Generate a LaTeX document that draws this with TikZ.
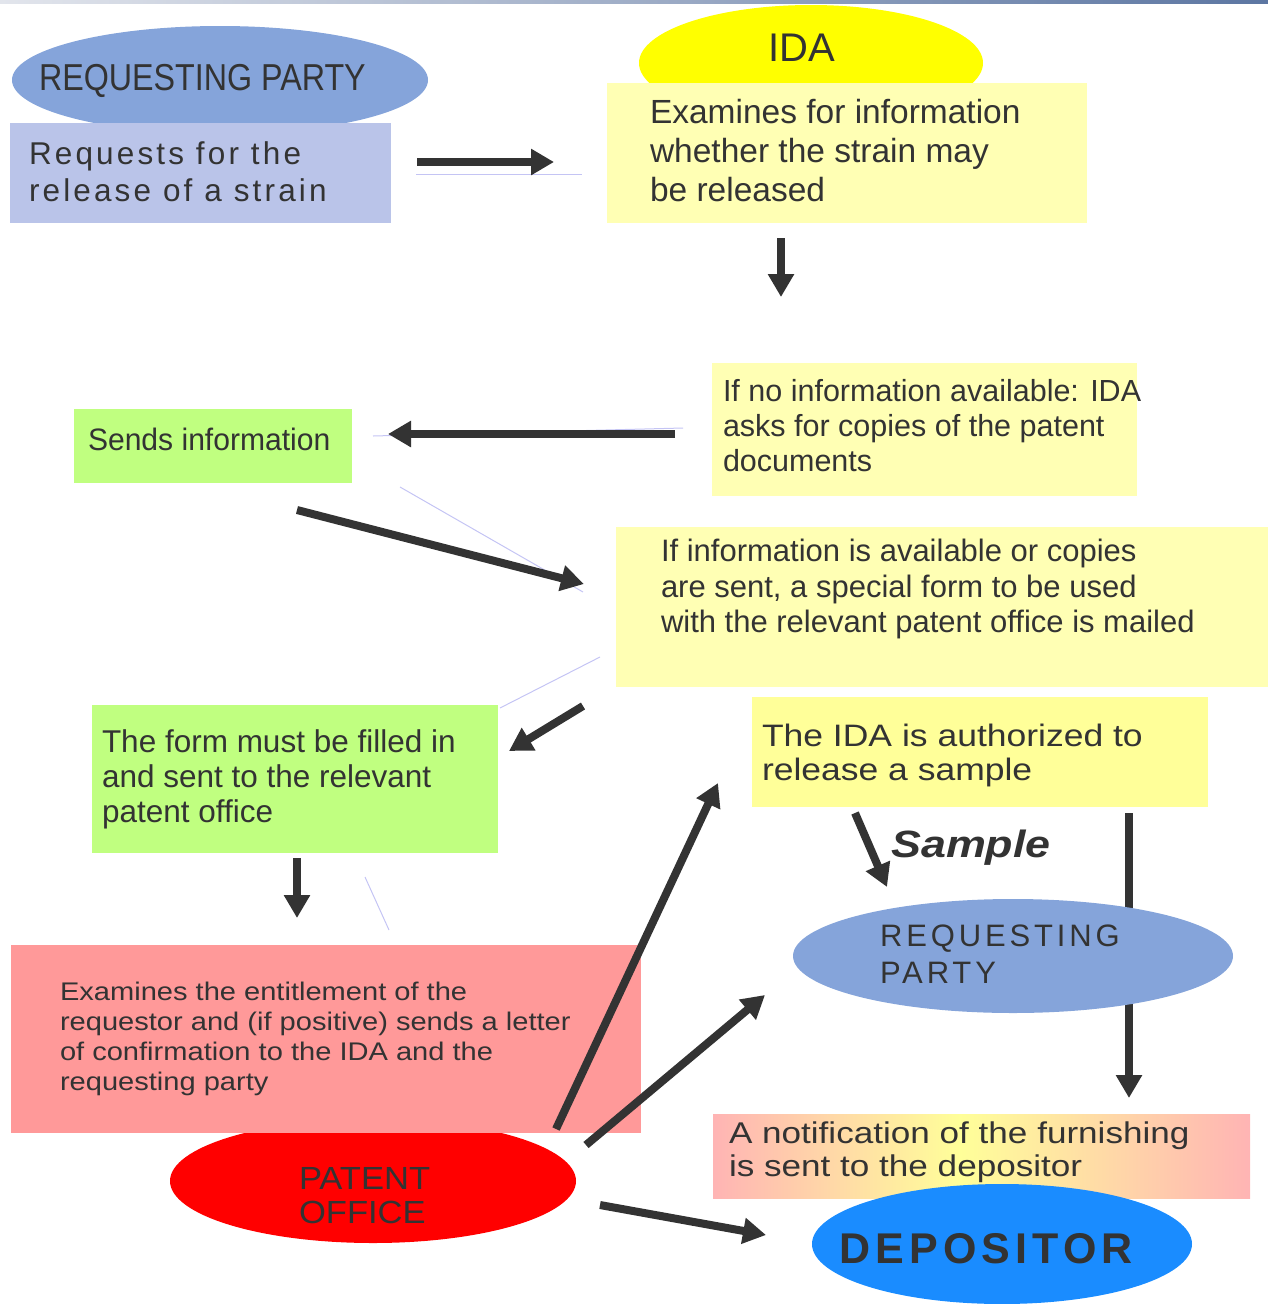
\documentclass[tikz,border=0pt]{standalone}
\usepackage{fontspec}
\setmainfont{Liberation Sans}
\usetikzlibrary{shapes.geometric,arrows.meta}
\newfontfamily\fnorm{Liberation Sans}
\newfontfamily\fcond[FakeStretch=0.86]{Liberation Sans}
\newfontfamily\fspaced[LetterSpace=10]{Liberation Sans}
\newfontfamily\fsend[FakeStretch=0.97]{Liberation Sans}
\newfontfamily\fpink[FakeStretch=1.14]{Liberation Sans}
\newfontfamily\fauth[FakeStretch=1.145]{Liberation Sans}
\newfontfamily\fnote[FakeStretch=1.17]{Liberation Sans}
\newfontfamily\freq[LetterSpace=12.5]{Liberation Sans}
\newfontfamily\fpat[FakeStretch=1.08]{Liberation Sans}
\newfontfamily\fdep[LetterSpace=12]{Liberation Sans}
\newfontfamily\fsmp[FakeStretch=1.18]{Liberation Sans}
\definecolor{ink}{RGB}{51,51,51}
\definecolor{steel}{RGB}{133,164,218}
\definecolor{lav}{RGB}{186,196,233}
\definecolor{paley}{RGB}{255,255,180}
\definecolor{authy}{RGB}{255,255,153}
\definecolor{idayel}{RGB}{255,255,0}
\definecolor{lime}{RGB}{192,255,128}
\definecolor{salmon}{RGB}{255,153,153}
\definecolor{patred}{RGB}{255,0,0}
\definecolor{depblue}{RGB}{26,140,255}
\definecolor{notepink}{RGB}{255,180,180}
\definecolor{noteyel}{RGB}{255,255,153}
\definecolor{faintc}{RGB}{196,196,244}
\definecolor{barL}{RGB}{226,229,236}
\definecolor{barR}{RGB}{92,118,162}
\pgfdeclarehorizontalshading{notegrad}{100bp}{color(0bp)=(notepink); color(25bp)=(notepink); color(48bp)=(noteyel); color(75bp)=(notepink); color(100bp)=(notepink)}
\tikzset{
  txt/.style={inner sep=0pt, outer sep=0pt, anchor=north west, align=left, text=ink},
  box/.style={inner sep=0pt, outer sep=0pt, anchor=north west, draw=none},
  oval/.style={ellipse, inner sep=0pt, outer sep=0pt, draw=none},
  flow/.style={draw=ink, line width=8pt, -{Triangle[length=23pt,width=25pt]}},
  faint/.style={draw=faintc, line width=1pt},
}
\begin{document}
\begin{tikzpicture}[x=1pt,y=-1pt]
\useasboundingbox (0,0) rectangle (1268,1304);
\shade[left color=barL, right color=barR] (0,0) rectangle (1268,3);
% shapes
\node[oval, fill=steel, minimum width=416pt, minimum height=108pt] (e1) at (220,80) {};
\node[box, fill=lav, minimum width=381pt, minimum height=100pt] (r1) at (10,123) {};
\node[oval, fill=idayel, minimum width=344pt, minimum height=116pt] (e2) at (811,63) {};
\node[box, fill=paley, minimum width=480pt, minimum height=140pt] (r2) at (607,83) {};
\node[box, fill=paley, minimum width=425pt, minimum height=133pt] (r3) at (712,363) {};
\node[box, fill=lime, minimum width=278pt, minimum height=74pt] (r4) at (74,409) {};
\node[box, fill=paley, minimum width=652pt, minimum height=160pt] (r5) at (616,527) {};
\node[box, fill=lime, minimum width=406pt, minimum height=148pt] (r6) at (92,705) {};
\node[box, fill=authy, minimum width=456pt, minimum height=110pt] (r8) at (752,697) {};
\node[oval, fill=patred, minimum width=406pt, minimum height=124pt] (e3) at (373,1181) {};
\node[box, fill=salmon, minimum width=630pt, minimum height=188pt] (r7) at (11,945) {};
\node[box, shading=notegrad, minimum width=537pt, minimum height=84pt] (r9) at (713,1114) {};
\node[oval, fill=depblue, minimum width=380pt, minimum height=120pt] (e5) at (1002,1244) {};
% faint lines
\coordinate (f1a) at (416,174); \coordinate (f1b) at (582,174);
\coordinate (f2a) at (373,436); \coordinate (f2b) at (683,428);
\coordinate (f3a) at (400,487); \coordinate (f3b) at (583,592);
\coordinate (f4a) at (600,657); \coordinate (f4b) at (500,708);
\coordinate (f5a) at (365,877); \coordinate (f5b) at (389,930);
\draw[faint] (f1a) -- (f1b);
\draw[faint] (f2a) -- (f2b);
\draw[faint] (f3a) -- (f3b);
\draw[faint] (f4a) -- (f4b);
\draw[faint] (f5a) -- (f5b);
% arrows
\coordinate (a1s) at (417,162); \coordinate (a1e) at (554,162);
\coordinate (a2s) at (781,238); \coordinate (a2e) at (781,297);
\coordinate (a3s) at (675,434); \coordinate (a3e) at (388,434);
\coordinate (a4s) at (297,510); \coordinate (a4e) at (584,584);
\coordinate (a5s) at (583,706); \coordinate (a5e) at (509,751);
\coordinate (a6s) at (297,858); \coordinate (a6e) at (297,918);
\coordinate (a7s) at (556,1129); \coordinate (a7e) at (718,783);
\coordinate (a8s) at (586,1145); \coordinate (a8e) at (765,995);
\coordinate (a9s) at (600,1205); \coordinate (a9e) at (766,1235);
\coordinate (a10s) at (855,813); \coordinate (a10e) at (887,887);
\coordinate (a11s) at (1129,813); \coordinate (a11e) at (1129,1098);
\draw[flow] (a1s) -- (a1e);
\draw[flow] (a2s) -- (a2e);
\draw[flow] (a3s) -- (a3e);
\draw[flow] (a4s) -- (a4e);
\draw[flow] (a5s) -- (a5e);
\draw[flow] (a6s) -- (a6e);
\draw[flow] (a7s) -- (a7e);
\draw[flow] (a8s) -- (a8e);
\draw[flow] (a9s) -- (a9e);
\draw[flow] (a10s) -- (a10e);
\draw[flow] (a11s) -- (a11e);
\node[oval, fill=steel, minimum width=440pt, minimum height=114pt] (e4) at (1013,956) {};
% texts
\node[txt, font=\fcond\fontsize{37.5}{40}\selectfont] (t1) at (39,64.6) {REQUESTING PARTY};
\node[txt, font=\fspaced\fontsize{31.5}{37}\selectfont] (t2) at (29,142) {Requests for the\\release of a strain};
\node[inner sep=0pt, anchor=base, text=ink, font=\fnorm\fontsize{40}{44}\selectfont] (t3) at (801.5,61) {IDA};
\node[txt, font=\fnorm\fontsize{33.5}{39}\selectfont] (t4) at (650,99.5) {Examines for information\\whether the strain may\\be released};
\node[txt, font=\fnorm\fontsize{30.5}{35}\selectfont] (t5) at (723,379.7) {If no information available: IDA\\asks for copies of the patent\\documents};
\node[txt, font=\fsend\fontsize{31}{35}\selectfont] (t6) at (88,428.4) {Sends information};
\node[txt, font=\fnorm\fontsize{31}{35.5}\selectfont] (t7) at (661,539.4) {If information is available or copies\\are sent, a special form to be used\\with the relevant patent office is mailed};
\node[txt, font=\fnorm\fontsize{31.5}{35}\selectfont] (t8) at (102,730) {The form must be filled in\\and sent to the relevant\\patent office};
\node[txt, font=\fpink\fontsize{25.5}{30}\selectfont] (t9) at (60,982.4) {Examines the entitlement of the\\requestor and (if positive) sends a letter\\of confirmation to the IDA and the\\requesting party};
\node[txt, font=\fpat\fontsize{32}{34}\selectfont] (t10) at (299,1167.6) {PATENT\\OFFICE};
\node[txt, font=\fauth\fontsize{31}{34}\selectfont] (t11) at (762,724.4) {The IDA is authorized to\\release a sample};
\node[inner sep=0pt, anchor=base west, text=ink, font=\fsmp\bfseries\itshape\fontsize{38}{40}\selectfont] (t12) at (891,857) {Sample};
\node[txt, font=\freq\fontsize{31}{37}\selectfont] (t13) at (880,924.4) {REQUESTING\\PARTY};
\node[txt, font=\fnote\fontsize{30}{33}\selectfont] (t14) at (729,1122) {A notification of the furnishing\\is sent to the depositor};
\node[inner sep=0pt, anchor=base west, text=ink, font=\fdep\bfseries\fontsize{43}{46}\selectfont] (t15) at (839,1263) {DEPOSITOR};
\end{tikzpicture}
\end{document}
